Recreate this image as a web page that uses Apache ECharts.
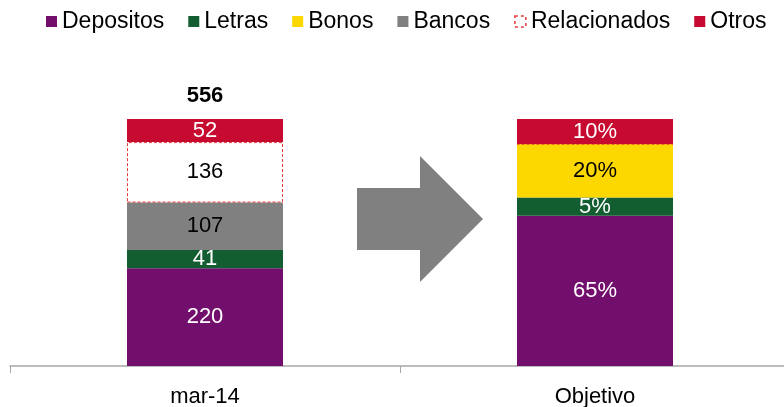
<!DOCTYPE html>
<html>
<head>
<meta charset="utf-8">
<script src="https://cdn.jsdelivr.net/npm/echarts@6/dist/echarts.min.js"></script>
<style>
  html, body { margin: 0; padding: 0; background: #fff; }
  #chart { width: 784px; height: 407px; }
</style>
</head>
<body>
<div id="chart"></div>
<script>
const categories = ["mar-14", "Objetivo"];
const seriesNames = ["Depositos", "Letras", "Bonos", "Bancos", "Relacionados", "Otros"];

// mar-14, absolute amounts
const marValues = [220, 41, 0, 107, 136, 52];
// Objetivo, bar heights as share of the column
const objetivoShares = [60.8, 7.4, 21.7, 0, 0, 10.1];
// Objetivo, printed labels
const objetivoLabels = ["65%", "5%", "20%", "", "", "10%"];

const colors = ["#720e6c", "#125e30", "#fdd700", "#808080", "#ffffff", "#c60a30"];
const labelColors = ["#fff", "#fff", "#000", "#000", "#000", "#fff"];

const FONT = "Liberation Sans, Arial, sans-serif";
const marTotal = marValues.reduce((a, b) => a + b, 0);

const series = seriesNames.map((name, i) => ({
  name: name,
  type: "bar",
  stack: "total",
  barWidth: "40%",
  itemStyle:
    name === "Relacionados"
      ? { color: "#fff", borderColor: "#e8383c", borderWidth: 1, borderType: [3, 2] }
      : { color: colors[i] },
  label: {
    show: true,
    position: "inside",
    color: labelColors[i],
    fontFamily: FONT,
    fontSize: 22,
    formatter: (p) => {
      if (p.dataIndex === 0) return marValues[i] ? String(marValues[i]) : "";
      return objetivoLabels[i];
    },
  },
  data: [
    (marValues[i] / marTotal) * 100,
    objetivoShares[i],
  ],
}));

// total on top of the first column
series.push({
  name: "Total",
  type: "bar",
  stack: "total",
  barWidth: "40%",
  data: [0, 0],
  label: {
    show: true,
    position: "top",
    distance: 12,
    color: "#000",
    fontWeight: "bold",
    fontFamily: FONT,
    fontSize: 22,
    formatter: (p) => (p.dataIndex === 0 ? String(marTotal) : ""),
  },
});

const legendData = seriesNames.map((name) =>
  name === "Relacionados"
    ? { name: name, itemStyle: { color: "#fff", borderColor: "#e8383c", borderWidth: 1.5, borderType: [3, 3] } }
    : { name: name }
);

const chart = echarts.init(document.getElementById("chart"));
chart.setOption({
  animation: false,
  color: colors,
  legend: {
    data: legendData,
    top: 5,
    left: 41,
    icon: "rect",
    itemWidth: 11,
    itemHeight: 11,
    itemGap: 24,
    textStyle: { fontFamily: FONT, fontSize: 23, color: "#000" },
  },
  grid: {
    left: 10,
    width: 780,
    top: 119,
    bottom: 41,
    containLabel: false,
    outerBoundsMode: "none",
  },
  xAxis: {
    type: "category",
    data: categories,
    axisLine: { lineStyle: { color: "#a6a6a6", width: 1.5 } },
    axisTick: { show: true, length: 7, lineStyle: { color: "#a6a6a6" } },
    axisLabel: { fontFamily: FONT, fontSize: 22, color: "#000", margin: 20 },
  },
  yAxis: { type: "value", min: 0, max: 100, show: false, splitLine: { show: false } },
  graphic: [
    {
      type: "polygon",
      shape: {
        points: [[357, 188], [420, 188], [420, 156], [483, 219], [420, 282], [420, 250], [357, 250]],
      },
      style: { fill: "#808080" },
    },
  ],
  series: series,
});
</script>
</body>
</html>
